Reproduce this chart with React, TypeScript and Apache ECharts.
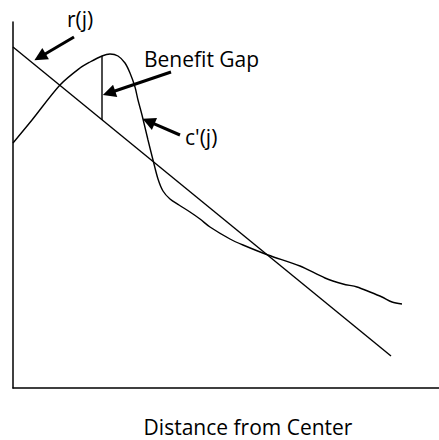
import React, { useEffect, useRef } from "react";
import * as echarts from "echarts";

// Abstract units (x: distance from center, y: value)
const rLine: number[][] = [
  [0, 341],
  [378, 32],
];

const cPrime: number[][] = [
  [0, 245], [19, 268], [47, 303], [67, 320], [77, 326], [89, 332], [97, 334],
  [105, 332], [112, 325], [117, 315], [122, 301], [125, 288], [129, 273],
  [135, 248], [140, 228], [145, 209], [150, 197], [157, 189], [166, 183],
  [177, 176], [187, 169], [197, 161], [217, 149], [230, 143], [255, 133],
  [287, 122], [312, 110], [330, 104], [344, 101], [357, 96], [369, 91],
  [379, 86], [389, 84],
];

const benefitGap: number[][] = [
  [89, 268],
  [89, 332],
];

const arrowCoords: number[][][] = [
  [[61, 351], [27, 331]],
  [[158, 316], [96, 295]],
  [[167, 253], [135.5, 266.6]],
];

const labels = ["r(j)", "Benefit Gap", "c'(j)"];
const xAxisTitle = "Distance from Center";

const FONT = "'Open Sans', sans-serif";

export default function App() {
  const ref = useRef<HTMLDivElement>(null);
  useEffect(() => {
    if (!ref.current) return;
    const chart = echarts.init(ref.current, null, { renderer: "svg" });
    const black = "#000";
    chart.setOption({
      animation: false,
      backgroundColor: "#fff",
      grid: { left: 13, right: 0, top: 22, bottom: 52, containLabel: false },
      xAxis: {
        type: "value",
        min: 0,
        max: 426,
        axisLine: { show: true, onZero: false, lineStyle: { color: black, width: 1.5 } },
        axisTick: { show: false },
        axisLabel: { show: false },
        splitLine: { show: false },
      },
      yAxis: {
        type: "value",
        min: 0,
        max: 366,
        axisLine: { show: true, onZero: false, lineStyle: { color: black, width: 1.5 } },
        axisTick: { show: false },
        axisLabel: { show: false },
        splitLine: { show: false },
      },
      series: [
        {
          type: "line",
          data: rLine,
          showSymbol: false,
          lineStyle: { color: black, width: 1.4 },
        },
        {
          type: "line",
          data: cPrime,
          smooth: 0.3,
          showSymbol: false,
          lineStyle: { color: black, width: 1.4 },
        },
        {
          type: "line",
          data: benefitGap,
          showSymbol: false,
          lineStyle: { color: black, width: 1.4 },
        },
        {
          type: "lines",
          coordinateSystem: "cartesian2d",
          symbol: ["none", "triangle"],
          symbolSize: [12, 13],
          lineStyle: { color: black, width: 3, opacity: 1 },
          itemStyle: { color: black },
          data: arrowCoords.map((c) => ({ coords: c })),
        },
      ],
      graphic: [
        {
          type: "text",
          x: 67,
          y: 19,
          style: { text: labels[0], font: `21px ${FONT}`, fill: black, verticalAlign: "middle" },
        },
        {
          type: "text",
          x: 144,
          y: 59,
          style: { text: labels[1], font: `21px ${FONT}`, fill: black, verticalAlign: "middle" },
        },
        {
          type: "text",
          x: 185,
          y: 137,
          style: { text: labels[2], font: `21px ${FONT}`, fill: black, verticalAlign: "middle" },
        },
        {
          type: "text",
          x: 248,
          y: 427,
          style: {
            text: xAxisTitle,
            font: `21px ${FONT}`,
            fill: black,
            align: "center",
            verticalAlign: "middle",
          },
        },
      ],
    });
    return () => chart.dispose();
  }, []);
  return (
    <div
      ref={ref}
      style={{ position: "absolute", left: 0, top: 0, width: 439, height: 440 }}
    />
  );
}
